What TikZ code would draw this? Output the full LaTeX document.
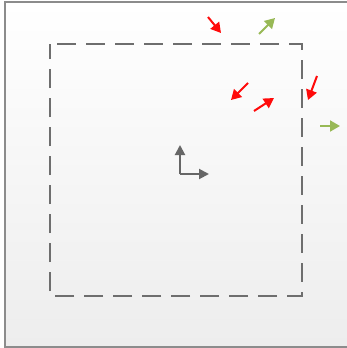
\documentclass[tikz,border=0pt]{standalone}
\usetikzlibrary{arrows.meta}
\definecolor{frame}{HTML}{8C8C8C}
\definecolor{dashc}{HTML}{6E6E6E}
\definecolor{axisc}{HTML}{666666}
\definecolor{redc}{HTML}{FF0A0A}
\definecolor{greenc}{HTML}{98B956}
\definecolor{bgbot}{HTML}{EDEDED}
\tikzset{
  vec/.style={line width=2pt, -{Triangle[length=10pt,width=11pt]}},
  redvec/.style={vec, draw=redc, fill=redc},
  greenvec/.style={vec, draw=greenc, fill=greenc},
  axisvec/.style={line width=2pt, draw=axisc, -{Triangle[length=10pt,width=10pt]}},
  dashbox/.style={draw=dashc, line width=2pt, dash pattern=on 19pt off 10pt, dash phase=22pt},
}
\begin{document}
\begin{tikzpicture}[x=1pt,y=-1pt]
\useasboundingbox (0,0) rectangle (346,348);
\shade[top color=white, bottom color=bgbot] (5,2) rectangle (352,347);
\draw[frame, line width=1.5pt] (352,2) -- (5,2) -- (5,347) -- (352,347);
\draw[dashbox] (50,44) -- (302,44) -- (302,296) -- (50,296) -- cycle;
% axes
\coordinate (o) at (180,174);
\coordinate (ay) at (180,145);
\coordinate (ax) at (209,174);
\draw[axisvec, line cap=butt] (o) -- (ay);
\draw[axisvec] (o) -- (ax);
% red arrows
\coordinate (r1a) at (208,17);
\coordinate (r1b) at (221,33);
\draw[redvec] (r1a) -- (r1b);
\coordinate (r2a) at (248,83);
\coordinate (r2b) at (231,100);
\draw[redvec] (r2a) -- (r2b);
\coordinate (r3a) at (254,111);
\coordinate (r3b) at (274,98);
\draw[redvec] (r3a) -- (r3b);
\coordinate (r4a) at (317,76);
\coordinate (r4b) at (308,100);
\draw[redvec] (r4a) -- (r4b);
% green arrows
\coordinate (g1a) at (259,34);
\coordinate (g1b) at (275,18);
\draw[greenvec] (g1a) -- (g1b);
\coordinate (g2a) at (320,126);
\coordinate (g2b) at (340,126);
\draw[greenvec] (g2a) -- (g2b);
\end{tikzpicture}
\end{document}
